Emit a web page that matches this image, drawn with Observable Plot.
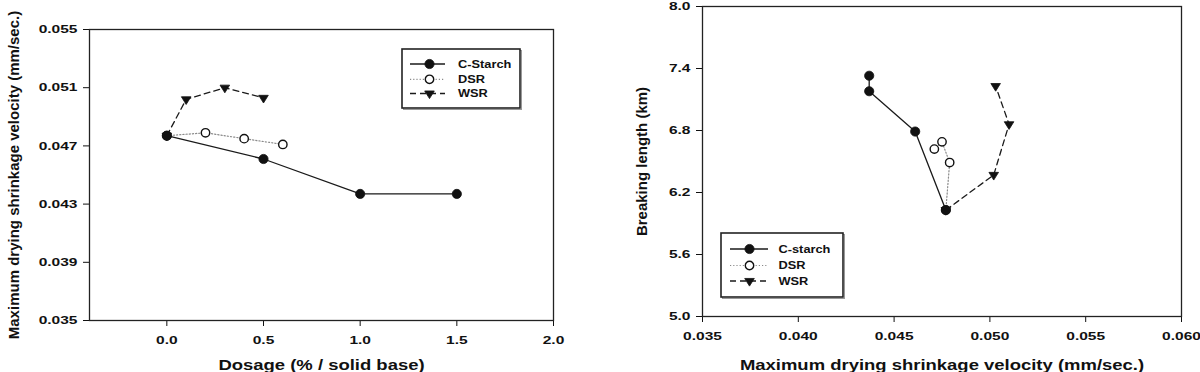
<!DOCTYPE html>
<html><head><meta charset="utf-8">
<script src="https://cdn.jsdelivr.net/npm/d3@7"></script>
<script src="https://cdn.jsdelivr.net/npm/@observablehq/plot@0.6"></script>
<style>
body{margin:0;background:#fff;font-family:"Liberation Sans",Arial,sans-serif;}
#wrap{display:flex;width:1200px;height:372px;}
.panel{position:relative;width:600px;height:372px;}
</style></head>
<body><div id="wrap"><div class="panel" id="left"></div><div class="panel" id="right"></div></div>
<script>
// ---- data ----
const seriesNames = ["C-Starch", "DSR", "WSR"];
const rightLegendNames = ["C-starch", "DSR", "WSR"];
const cStarchDose = [0, 0.5, 1.0, 1.5];
const cStarchVel  = [0.0477, 0.0461, 0.0437, 0.0437];
const cStarchBL   = [6.03, 6.79, 7.18, 7.33];
const dsrDose = [0, 0.2, 0.4, 0.6];
const dsrVel  = [0.0477, 0.0479, 0.0475, 0.0471];
const dsrBL   = [6.03, 6.49, 6.69, 6.62];
const wsrDose = [0, 0.1, 0.3, 0.5];
const wsrVel  = [0.0477, 0.0502, 0.0510, 0.0503];
const wsrBL   = [6.03, 6.37, 6.86, 7.23];
const leftXTicks  = [0, 0.5, 1.0, 1.5, 2.0];
const leftYTicks  = [0.035, 0.039, 0.043, 0.047, 0.051, 0.055];
const rightXTicks = [0.035, 0.040, 0.045, 0.050, 0.055, 0.060];
const rightYTicks = [5.0, 5.6, 6.2, 6.8, 7.4, 8.0];

// downward triangle; size = PI r^2, side ~ 2r
const triangleDown = {
  draw(ctx, size) {
    const r = Math.sqrt(size / Math.PI);
    const a = 2 * r;
    const h = a * 0.8;
    ctx.moveTo(0, 2 * h / 3);
    ctx.lineTo(-a / 2, -h / 3);
    ctx.lineTo(a / 2, -h / 3);
    ctx.closePath();
  }
};

const styles = {
  "C-Starch": {stroke: "#1a1a1a", dash: null, width: 1.3, symbol: "circle", fill: "#111", r: 4.6},
  "DSR":      {stroke: "#8a8a8a", dash: "1.2,2", width: 1.2, symbol: "circle", fill: "#fff", r: 4.2},
  "WSR":      {stroke: "#1a1a1a", dash: "6,4", width: 1.3, symbol: triangleDown, fill: "#111", r: 4.8}
};

const raw = [
  {name: "C-Starch", dose: cStarchDose, vel: cStarchVel, bl: cStarchBL},
  {name: "DSR", dose: dsrDose, vel: dsrVel, bl: dsrBL},
  {name: "WSR", dose: wsrDose, vel: wsrVel, bl: wsrBL}
];
const rows = raw.flatMap(s => s.dose.map((d, i) => ({series: s.name, dose: d, vel: s.vel[i], bl: s.bl[i]})));
const drawOrder = ["WSR", "DSR", "C-Starch"];

function seriesMarks(xk, yk) {
  const lines = drawOrder.map(n => {
    const st = styles[n];
    return Plot.line(rows.filter(d => d.series === n), {x: xk, y: yk, stroke: st.stroke, strokeWidth: st.width, strokeDasharray: st.dash});
  });
  const dots = drawOrder.map(n => {
    const st = styles[n];
    return Plot.dot(rows.filter(d => d.series === n), {x: xk, y: yk, r: st.r, symbol: st.symbol, fill: st.fill, stroke: "#111", strokeWidth: n === "DSR" ? 1.4 : 0.8});
  });
  return [...lines, ...dots];
}

const fontFam = '"Liberation Sans", Arial, sans-serif';

function stretch(sel, s) {
  sel.each(function () {
    const t = this.getAttribute("transform");
    if (t) this.setAttribute("transform", t + ` scale(${s},1)`);
    else {
      const x = +this.getAttribute("x") || 0;
      this.setAttribute("transform", `translate(${x},0) scale(${s},1) translate(${-x},0)`);
    }
  });
}

function finish(svg, yLabelSize) {
  const s = d3.select(svg);
  s.selectAll('g[aria-label="x-axis label"] text').attr("font-size", 14);
  s.selectAll('g[aria-label="y-axis label"] text').attr("font-size", yLabelSize);
  stretch(s.selectAll('g[aria-label="x-axis tick label"] text'), 1.35);
  stretch(s.selectAll('g[aria-label="y-axis tick label"] text'), 1.35);
  stretch(s.selectAll('g[aria-label="x-axis label"] text'), 1.32);
}

function drawLegend(svg, box, rowsY, lx0, lx1, mx, tx, names) {
  const g = d3.select(svg).append("g").attr("class", "legend");
  g.append("rect").attr("x", box[0] + 1.5).attr("y", box[1] + 1.5).attr("width", box[2] - box[0]).attr("height", box[3] - box[1])
    .attr("fill", "none").attr("stroke", "#999").attr("stroke-width", 1);
  g.append("rect").attr("x", box[0]).attr("y", box[1]).attr("width", box[2] - box[0]).attr("height", box[3] - box[1])
    .attr("fill", "#fff").attr("stroke", "#222").attr("stroke-width", 1.6);
  seriesNames.forEach((n, i) => {
    const st = styles[n];
    const y = rowsY[i];
    g.append("line").attr("x1", lx0).attr("x2", lx1).attr("y1", y).attr("y2", y)
      .attr("stroke", st.stroke).attr("stroke-width", st.width).attr("stroke-dasharray", st.dash);
    const type = st.symbol === "circle" ? d3.symbolCircle : triangleDown;
    g.append("path").attr("d", d3.symbol(type, Math.PI * st.r * st.r)())
      .attr("transform", `translate(${mx},${y})`).attr("fill", st.fill).attr("stroke", "#111").attr("stroke-width", n === "DSR" ? 1.4 : 0.8);
    g.append("text").attr("x", tx).attr("y", y).attr("dy", "0.35em").attr("text-anchor", "start")
      .attr("font-size", 10.5).attr("font-weight", "bold")
      .attr("font-family", fontFam).attr("fill", "#111").text(names[i])
      .attr("transform", `translate(${tx},0) scale(1.22,1) translate(${-tx},0)`);
  });
}

// ---- left panel ----
const left = Plot.plot({
  width: 600, height: 372,
  marginLeft: 89, marginRight: 47, marginTop: 29, marginBottom: 52,
  style: {fontFamily: fontFam, fontSize: "11.5px", fontWeight: "bold", color: "#111", background: "#fff"},
  x: {domain: [-0.4, 2.0]},
  y: {domain: [0.035, 0.055]},
  marks: [
    Plot.axisX({ticks: leftXTicks, tickFormat: d3.format(".1f"), tickSize: 6, tickPadding: 9, label: "Dosage (% / solid base)", labelAnchor: "center", labelOffset: 49, labelArrow: "none"}),
    Plot.axisY({ticks: leftYTicks, tickFormat: d3.format(".3f"), tickSize: 6, tickPadding: 6, label: "Maximum drying shrinkage velocity (mm/sec.)", labelAnchor: "center", labelOffset: 81, labelArrow: "none"}),
    ...seriesMarks("dose", "vel"),
    Plot.frame({stroke: "#222", strokeWidth: 1.3})
  ]
});
document.getElementById("left").appendChild(left);
finish(left, 15);
drawLegend(left, [402, 49, 520, 108], [64, 79.3, 93.5], 410, 445, 429.5, 458, seriesNames);

// ---- right panel ----
const right = Plot.plot({
  width: 600, height: 372,
  marginLeft: 102, marginRight: 19, marginTop: 6, marginBottom: 56,
  style: {fontFamily: fontFam, fontSize: "11.5px", fontWeight: "bold", color: "#111", background: "#fff"},
  x: {domain: [0.035, 0.060]},
  y: {domain: [5.0, 8.0]},
  marks: [
    Plot.axisX({ticks: rightXTicks, tickFormat: d3.format(".3f"), tickSize: 6, tickPadding: 9, label: "Maximum drying shrinkage velocity (mm/sec.)", labelAnchor: "center", labelOffset: 53, labelArrow: "none"}),
    Plot.axisY({ticks: rightYTicks, tickFormat: d3.format(".1f"), tickSize: 6, tickPadding: 6, label: "Breaking length (km)", labelAnchor: "center", labelOffset: 66, labelArrow: "none"}),
    ...seriesMarks("vel", "bl"),
    Plot.frame({stroke: "#222", strokeWidth: 1.3})
  ]
});
document.getElementById("right").appendChild(right);
finish(right, 15);
drawLegend(right, [121, 233, 243, 297], [249, 265.5, 281], 130, 168, 149.5, 178.5, rightLegendNames);
</script>
</body></html>
